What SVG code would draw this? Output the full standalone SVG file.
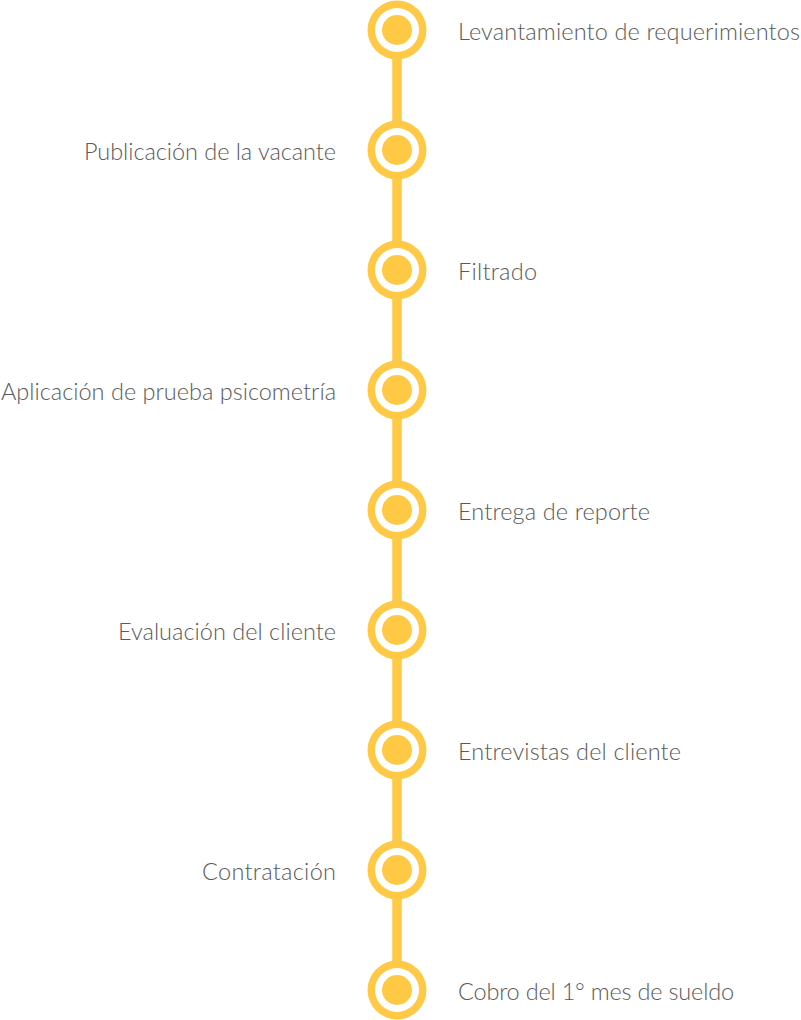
<svg xmlns="http://www.w3.org/2000/svg" width="801" height="1020" viewBox="0 0 801 1020">
<defs>
<style>
.line{stroke:#FFC845;stroke-width:9.5;fill:none}
.ring{fill:#FFC845}
.gap{fill:#FFFFFF}
.dot{fill:#FFC845}
.lbl{font-family:"Lato Light",Lato,"Open Sans",sans-serif;font-weight:300;font-size:23.5px;fill:#5a5a5a}
.l{text-anchor:end}
.r{text-anchor:start}
</style>
<g id="nodeShape">
<circle class="ring" r="29.5"/>
<circle class="gap" r="22"/>
<circle class="dot" r="15"/>
</g>
</defs>
<rect width="801" height="1020" fill="#FFFFFF"/>
<g id="connectors">
<line class="line" x1="397" y1="30" x2="397" y2="990"/>
</g>
<g id="n1"><use href="#nodeShape" x="397" y="30"/><text class="lbl r" x="458" y="39.5" textLength="342" lengthAdjust="spacing">Levantamiento de requerimientos</text></g>
<g id="n2"><use href="#nodeShape" x="397" y="150"/><text class="lbl l" x="336" y="159.5" textLength="252" lengthAdjust="spacing">Publicación de la vacante</text></g>
<g id="n3"><use href="#nodeShape" x="397" y="270"/><text class="lbl r" x="458" y="279.5" textLength="79" lengthAdjust="spacing">Filtrado</text></g>
<g id="n4"><use href="#nodeShape" x="397" y="390"/><text class="lbl l" x="336" y="399.5" textLength="335" lengthAdjust="spacing">Aplicación de prueba psicometría</text></g>
<g id="n5"><use href="#nodeShape" x="397" y="510"/><text class="lbl r" x="458" y="519.5" textLength="192" lengthAdjust="spacing">Entrega de reporte</text></g>
<g id="n6"><use href="#nodeShape" x="397" y="630"/><text class="lbl l" x="336" y="639.5" textLength="218" lengthAdjust="spacing">Evaluación del cliente</text></g>
<g id="n7"><use href="#nodeShape" x="397" y="750"/><text class="lbl r" x="458" y="759.5" textLength="223" lengthAdjust="spacing">Entrevistas del cliente</text></g>
<g id="n8"><use href="#nodeShape" x="397" y="870"/><text class="lbl l" x="336" y="879.5" textLength="134" lengthAdjust="spacing">Contratación</text></g>
<g id="n9"><use href="#nodeShape" x="397" y="990"/><text class="lbl r" x="458" y="999.5" textLength="276" lengthAdjust="spacing">Cobro del 1° mes de sueldo</text></g>
</svg>
